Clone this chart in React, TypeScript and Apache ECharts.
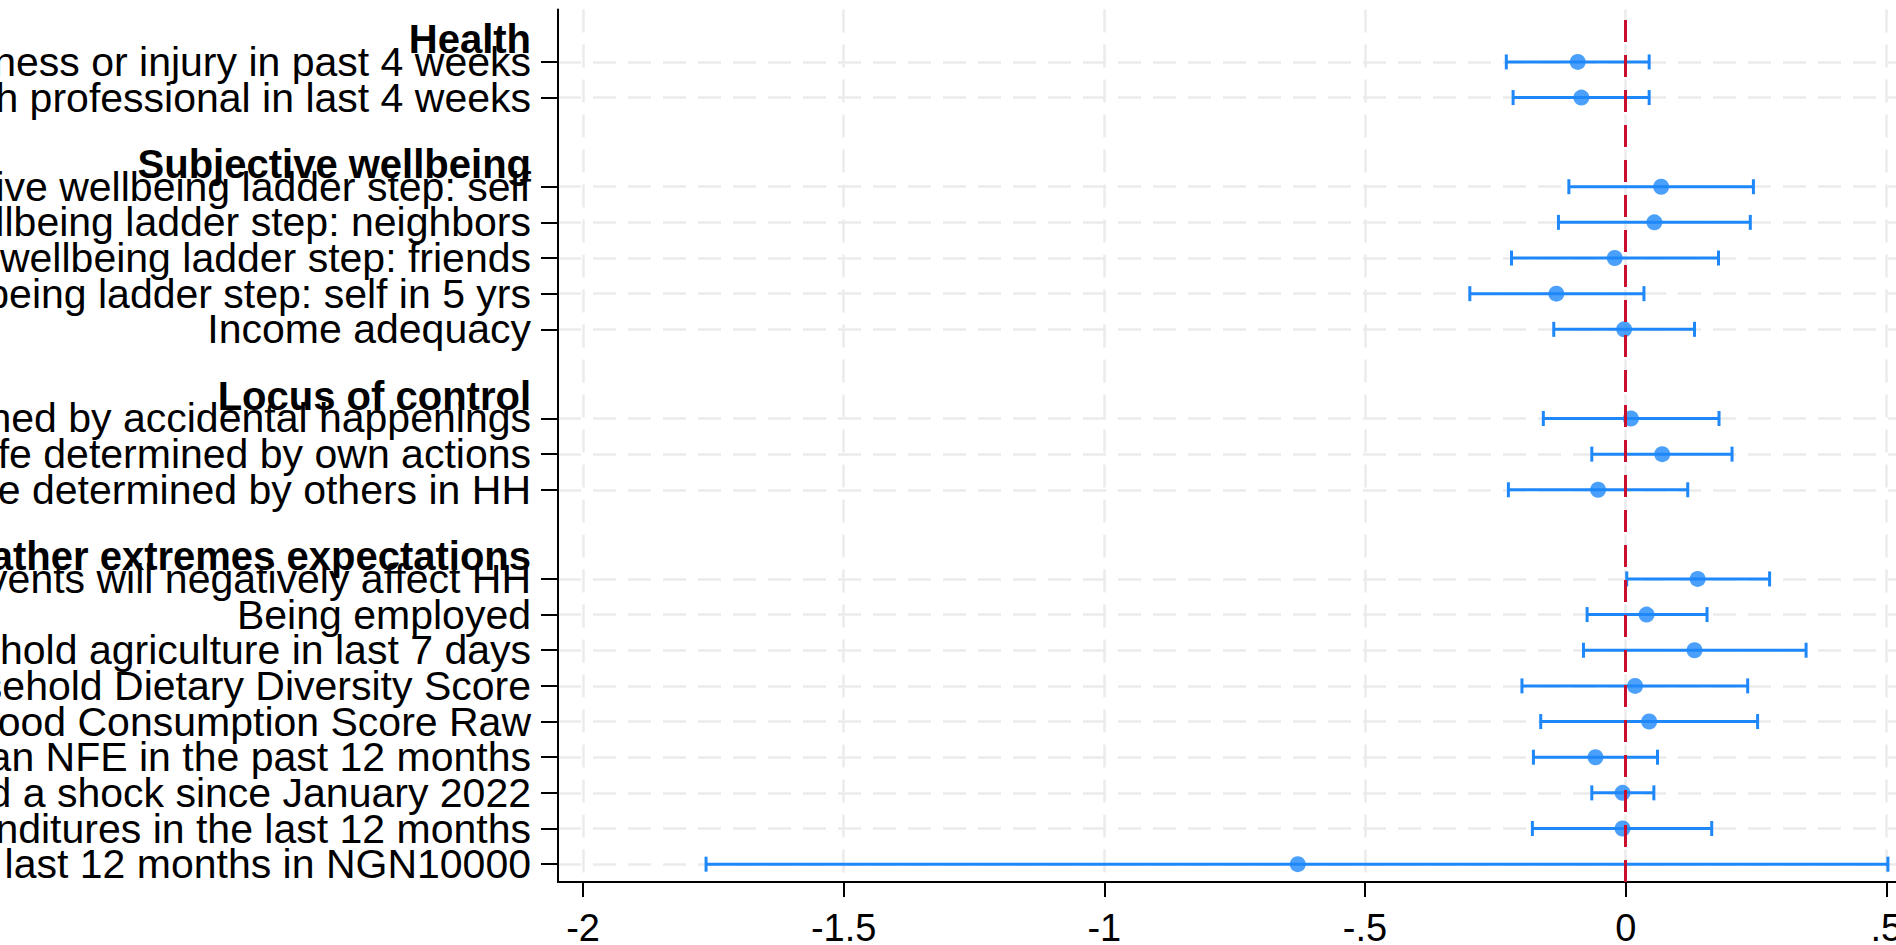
import React, { useEffect, useRef } from "react";
import * as echarts from "echarts";

// ---- data ----
const headings = ["Health", "Subjective wellbeing", "Locus of control", "Weather extremes expectations"];
const groupSizes = [2, 5, 3, 9];

const labels = [
  "Experienced illness or injury in past 4 weeks",
  "Consulted a health professional in last 4 weeks",
  "Subjective wellbeing ladder step: self",
  "Subjective wellbeing ladder step: neighbors",
  "Subjective wellbeing ladder step: friends",
  "Subjective wellbeing ladder step: self in 5 yrs",
  "Income adequacy",
  "Life determined by accidental happenings",
  "Life determined by own actions",
  "Life determined by others in HH",
  "Weather extreme events will negatively affect HH",
  "Being employed",
  "Worked in household agriculture in last 7 days",
  "Household Dietary Diversity Score",
  "Food Consumption Score Raw",
  "Operated an NFE in the past 12 months",
  "Experienced a shock since January 2022",
  "Total expenditures in the last 12 months",
  "Total income in the last 12 months in NGN10000",
];

const estimates = [-0.092, -0.085, 0.068, 0.055, -0.021, -0.133, -0.003, 0.010, 0.070, -0.053, 0.138, 0.040, 0.132, 0.018, 0.045, -0.058, -0.006, -0.006, -0.629];
const lowerCI = [-0.229, -0.216, -0.109, -0.129, -0.219, -0.299, -0.138, -0.158, -0.065, -0.225, 0.002, -0.074, -0.081, -0.199, -0.163, -0.177, -0.065, -0.179, -1.764];
const upperCI = [0.045, 0.045, 0.245, 0.239, 0.178, 0.035, 0.132, 0.179, 0.204, 0.119, 0.276, 0.156, 0.346, 0.234, 0.253, 0.061, 0.054, 0.165, 0.503];

const xTicks = [-2, -1.5, -1, -0.5, 0, 0.5];

// ---- layout helpers ----
const rowPos: number[] = [];
const headPos: number[] = [];
{
  let p = 0;
  groupSizes.forEach((n, g) => {
    if (g > 0) p += 1.5;
    headPos.push(p - 0.63);
    for (let i = 0; i < n; i++) {
      rowPos.push(p);
      p += 1;
    }
  });
}
const Y_MIN = -1.47;
const Y_MAX = rowPos[rowPos.length - 1] + 0.5;

const rowLabelMap: Record<string, string> = {};
rowPos.forEach((v, i) => (rowLabelMap[v.toFixed(2)] = labels[i]));
const headLabelMap: Record<string, string> = {};
headPos.forEach((v, i) => (headLabelMap[v.toFixed(2)] = headings[i]));

// order label values so that the first/last entries are far from their list neighbours
// (keeps ECharts' min/max-label overlap check from hiding any label)
const N = rowPos.length;
const rowLabelOrder: number[] = [rowPos[0], rowPos[N - 1]];
for (let i = 2; i < N - 1; i++) rowLabelOrder.push(rowPos[i]);
rowLabelOrder.push(rowPos[1]);

const fmtX = (v: number) => {
  if (v === 0) return "0";
  return String(v).replace(/^(-?)0\./, "$1.");
};

const BLUE = "#1E88FA";
const RED = "#C8102E";
const GRID = "#EBEBEB";
const FONT = "Liberation Sans";
const Y_FONT = 41;
const H_FONT = 40;

export default function App() {
  const ref = useRef<HTMLDivElement>(null);
  useEffect(() => {
    if (!ref.current) return;
    const chart = echarts.init(ref.current, null, { renderer: "svg" });
    const ciData = rowPos.map((p, i) => [lowerCI[i], upperCI[i], p]);
    const ptData = rowPos.map((p, i) => [estimates[i], p]);
    chart.setOption({
      animation: false,
      backgroundColor: "#fff",
      grid: { left: 558, top: 9.5, right: 21.5, bottom: 63, containLabel: false, outerBoundsMode: "none" },
      xAxis: {
        type: "value",
        min: -2.048,
        max: 0.6,
        axisLine: { show: true, onZero: false, lineStyle: { color: "#000", width: 2 } },
        axisTick: { show: true, length: 15, customValues: xTicks, lineStyle: { color: "#000", width: 2 } },
        axisLabel: {
          customValues: xTicks,
          showMinLabel: true,
          showMaxLabel: true,
          hideOverlap: false,
          margin: 27,
          fontSize: 38,
          fontFamily: FONT,
          color: "#000",
          formatter: (v: number) => fmtX(v),
        },
        splitLine: { show: true, lineStyle: { color: GRID, width: 2.5, type: [23, 12] } },
      },
      yAxis: [
        {
          type: "value",
          position: "left",
          inverse: true,
          min: Y_MIN,
          max: Y_MAX,
          axisLine: { show: true, onZero: false, lineStyle: { color: "#000", width: 2 } },
          axisTick: { show: true, length: 17, customValues: rowPos, lineStyle: { color: "#000", width: 2 } },
          axisLabel: {
            customValues: rowLabelOrder,
            showMinLabel: true,
            showMaxLabel: true,
            hideOverlap: false,
            margin: 27,
            fontSize: Y_FONT,
            fontFamily: FONT,
            color: "#000",
            formatter: (v: number) => rowLabelMap[v.toFixed(2)] ?? "",
          },
          splitLine: { show: true, lineStyle: { color: GRID, width: 2.5, type: [23, 12] } },
        },
        {
          type: "value",
          position: "left",
          offset: 0,
          inverse: true,
          min: Y_MIN,
          max: Y_MAX,
          axisLine: { show: false, onZero: false },
          axisTick: { show: false },
          splitLine: { show: false },
          axisLabel: {
            customValues: headPos,
            showMinLabel: true,
            showMaxLabel: true,
            hideOverlap: false,
            margin: 27,
            fontSize: H_FONT,
            fontWeight: "bold",
            fontFamily: FONT,
            color: "#000",
            formatter: (v: number) => headLabelMap[v.toFixed(2)] ?? "",
          },
        },
      ],
      series: [
        {
          type: "custom",
          z: 2,
          data: ciData,
          encode: { x: [0, 1], y: 2 },
          renderItem: (params: any, api: any) => {
            const lo = api.coord([api.value(0), api.value(2)]);
            const hi = api.coord([api.value(1), api.value(2)]);
            const style = { stroke: BLUE, lineWidth: 3, fill: "none" };
            const h = 7.5;
            return {
              type: "group",
              children: [
                { type: "line", shape: { x1: lo[0], y1: lo[1], x2: hi[0], y2: hi[1] }, style },
                { type: "line", shape: { x1: lo[0], y1: lo[1] - h, x2: lo[0], y2: lo[1] + h }, style },
                { type: "line", shape: { x1: hi[0], y1: hi[1] - h, x2: hi[0], y2: hi[1] + h }, style },
              ],
            };
          },
        },
        {
          type: "line",
          z: 3,
          data: [],
          markLine: {
            silent: true,
            symbol: "none",
            label: { show: false },
            lineStyle: { color: RED, width: 3, type: [22, 13] },
            data: [[{ coord: [0, Y_MAX] }, { coord: [0, Y_MIN] }]],
          },
        },
        {
          type: "scatter",
          z: 4,
          data: ptData,
          symbol: "circle",
          symbolSize: 16,
          itemStyle: { color: BLUE },
        },
      ],
    });
    return () => chart.dispose();
  }, []);
  return (
    <div style={{ position: "fixed", left: 0, top: 0, width: 1896, height: 945, overflow: "hidden", background: "#fff" }}>
      <div ref={ref} style={{ width: 1960, height: 945 }} />
    </div>
  );
}
